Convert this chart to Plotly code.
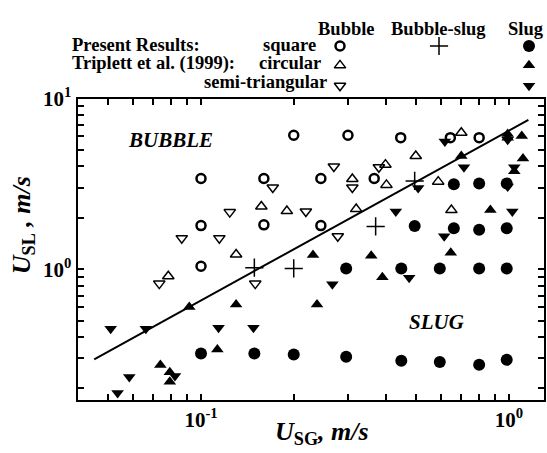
import plotly.graph_objects as go

W, H = 547, 453

# ---- data (U_SG, U_SL in m/s) ----
# Present results, square channel
sq_bubble_x = [0.2, 0.3, 0.445, 0.645, 0.80, 0.1, 0.16, 0.245, 0.365, 0.1, 0.16, 0.245, 0.1]
sq_bubble_y = [6.1, 6.1, 5.9, 5.9, 5.9, 3.4, 3.4, 3.4, 3.4, 1.8, 1.82, 1.8, 1.04]
sq_bslug_x = [0.149, 0.2, 0.369, 0.494]
sq_bslug_y = [1.02, 1.01, 1.78, 3.29]
sq_slug_x = [0.662, 0.80, 0.983, 0.494, 0.662, 0.80, 0.983, 0.296, 0.447, 0.596, 0.80, 0.983,
             0.1, 0.149, 0.2, 0.296, 0.447, 0.596, 0.80, 0.983]
sq_slug_y = [3.15, 3.18, 3.18, 1.79, 1.74, 1.70, 1.74, 1.01, 1.01, 1.01, 1.01, 1.01,
             0.32, 0.32, 0.316, 0.307, 0.29, 0.286, 0.275, 0.294]
# Triplett et al. (1999), circular channel
circ_bubble_x = [0.70, 0.498, 0.397, 0.31, 0.40, 0.589, 0.157, 0.19, 0.319, 0.65, 0.13, 0.0783]
circ_bubble_y = [6.31, 4.61, 4.1, 3.38, 3.12, 3.26, 2.33, 2.19, 2.25, 2.22, 1.22, 0.909]
circ_slug_x = [0.99, 0.99, 1.10, 0.70, 1.11, 1.04, 0.87, 0.231, 0.357, 0.647, 0.13, 0.238,
               0.388, 0.0916, 0.113, 0.0738, 0.0792, 0.0792]
circ_slug_y = [6.2, 5.9, 6.04, 4.61, 4.46, 3.75, 2.22, 1.21, 1.20, 1.25, 0.62, 0.62,
               0.897, 0.601, 0.338, 0.274, 0.249, 0.219]
# Triplett et al. (1999), semi-triangular channel
semi_bubble_x = [0.171, 0.31, 0.27, 0.378, 0.124, 0.219, 0.0866, 0.1147, 0.278, 0.0732, 0.15]
semi_bubble_y = [3.01, 3.01, 4.0, 3.96, 2.16, 2.18, 1.52, 1.52, 1.56, 0.823, 0.823]
semi_slug_x = [0.619, 0.99, 0.714, 1.04, 0.507, 0.99, 0.429, 1.025, 0.616, 0.267, 0.474,
               0.0509, 0.0662, 0.114, 0.148, 0.0585, 0.0823, 0.0536]
semi_slug_y = [5.61, 5.73, 3.96, 3.96, 2.99, 3.05, 2.18, 2.18, 1.56, 0.815, 0.89,
               0.448, 0.448, 0.454, 0.454, 0.233, 0.236, 0.188]
# bubble/slug transition line
trans_x = [0.045, 1.156]
trans_y = [0.296, 7.5]

# axis ticks
x_tickvals = [0.05, 0.06, 0.07, 0.08, 0.09, 0.1, 0.2, 0.3, 0.4, 0.5, 0.6, 0.7, 0.8, 0.9, 1.0]
x_ticktext = ["", "", "", "", "", "<b>10<sup>-1</sup></b>", "", "", "", "", "", "", "", "", "<b>10<sup>0</sup></b>"]
y_tickvals = [0.2, 0.3, 0.4, 0.5, 0.6, 0.7, 0.8, 0.9, 1, 2, 3, 4, 5, 6, 7, 8, 9, 10]
y_ticktext = ["", "", "", "", "", "", "", "", "<b>10<sup>0</sup></b>",
              "", "", "", "", "", "", "", "", "<b>10<sup>1</sup></b>"]

FONT = "Liberation Serif"
BLACK = "#000000"

# plot frame in pixels
L, R, T, B = 77.5, 544.0, 87.3, 398.3

fig = go.Figure()

fig.add_trace(go.Scatter(x=trans_x, y=trans_y, mode="lines",
                         line=dict(color=BLACK, width=2), showlegend=False))


def add_pts(x, y, symbol, size, lw=0):
    fig.add_trace(go.Scatter(
        x=x, y=y, mode="markers", showlegend=False, cliponaxis=False,
        marker=dict(symbol=symbol, size=size, color=BLACK,
                    line=dict(color=BLACK, width=lw))))


add_pts(sq_bubble_x, sq_bubble_y, "circle-open", 9, 2.5)
add_pts(sq_bslug_x, sq_bslug_y, "cross-thin-open", 13, 1.5)
add_pts(sq_slug_x, sq_slug_y, "circle", 12)
add_pts(circ_bubble_x, circ_bubble_y, "triangle-up-open", 10, 1.5)
add_pts(circ_slug_x, circ_slug_y, "triangle-up", 11)
add_pts(semi_bubble_x, semi_bubble_y, "triangle-down-open", 10, 1.5)
add_pts(semi_slug_x, semi_slug_y, "triangle-down", 11)

# legend key symbols on a pixel-space overlay axis
leg_col_x = {"Bubble": 340, "Bubble-slug": 439, "Slug": 529}
leg_row_y = [33, 53, 74]
leg_items = [
    ("Bubble", 0, "circle-open", 9, 2.5), ("Bubble-slug", 0, "cross-thin-open", 13, 1.5),
    ("Slug", 0, "circle", 12, 0),
    ("Bubble", 1, "triangle-up-open", 10, 1.5), ("Slug", 1, "triangle-up", 11, 0),
    ("Bubble", 2, "triangle-down-open", 10, 1.5), ("Slug", 2, "triangle-down", 11, 0),
]
for col, row, sym, size, lw in leg_items:
    fig.add_trace(go.Scatter(
        x=[leg_col_x[col]], y=[leg_row_y[row]], xaxis="x2", yaxis="y2",
        mode="markers", showlegend=False, cliponaxis=False,
        marker=dict(symbol=sym, size=size, color=BLACK, line=dict(color=BLACK, width=lw))))

axis_common = dict(type="log", showgrid=False, zeroline=False, showline=True,
                   linecolor=BLACK, linewidth=2, mirror="allticks", ticks="inside",
                   ticklen=6, tickwidth=1.5, tickcolor=BLACK,
                   tickfont=dict(family=FONT, size=21, color=BLACK))

fig.update_layout(
    width=W, height=H,
    margin=dict(l=0, r=0, t=0, b=0),
    paper_bgcolor="white", plot_bgcolor="rgba(0,0,0,0)",
    showlegend=False,
    xaxis=dict(**axis_common, domain=[L / W, R / W], range=[-1.401, 0.1136],
               tickmode="array", tickvals=x_tickvals, ticktext=x_ticktext),
    yaxis=dict(**axis_common, domain=[1 - B / H, 1 - T / H], range=[-0.767, 1.0],
               tickmode="array", tickvals=y_tickvals, ticktext=y_ticktext),
    xaxis2=dict(domain=[0, 1], range=[0, W], visible=False, fixedrange=True, anchor="y2"),
    yaxis2=dict(domain=[0, 1], range=[H, 0], visible=False, fixedrange=True, anchor="x2"),
)


def ann(text, px, py, size, xanchor="center", yanchor="middle", angle=0):
    fig.add_annotation(text=text, x=px / W, y=1 - py / H, xref="paper", yref="paper",
                       showarrow=False, xanchor=xanchor, yanchor=yanchor, textangle=angle,
                       font=dict(family=FONT, size=size, color=BLACK))


# legend table text
LEG = 18.5
ann("<b>Bubble</b>", 346, 15, LEG)
ann("<b>Bubble-slug</b>", 438, 15, LEG)
ann("<b>Slug</b>", 546, 15, LEG, xanchor="right")
ann("<b>Present Results:</b>", 70, 32, LEG, xanchor="left")
ann("<b>Triplett et al. (1999):</b>", 70, 51, LEG, xanchor="left")
ann("<b>square</b>", 318, 32, LEG, xanchor="right")
ann("<b>circular</b>", 323, 51, LEG, xanchor="right")
ann("<b>semi-triangular</b>", 329, 70, LEG, xanchor="right")

# regime labels
ann("<b><i>BUBBLE</i></b>", 170, 130, 21)
ann("<b><i>SLUG</i></b>", 436, 318, 21)

# axis titles
ann("<b><i>U</i><sub>SG</sub><i>, m/s</i></b>", 322, 432, 26)
ann("<b><i>U</i><sub>SL</sub><i> , m/s</i></b>", 23, 218, 26, angle=-90)

# the page body has a default 8px margin; remove it so the figure sits at (0, 0)
fig.write_html("out.html", config={"displayModeBar": False},
               post_script="document.body.style.margin='0';document.body.style.overflow='hidden';")
